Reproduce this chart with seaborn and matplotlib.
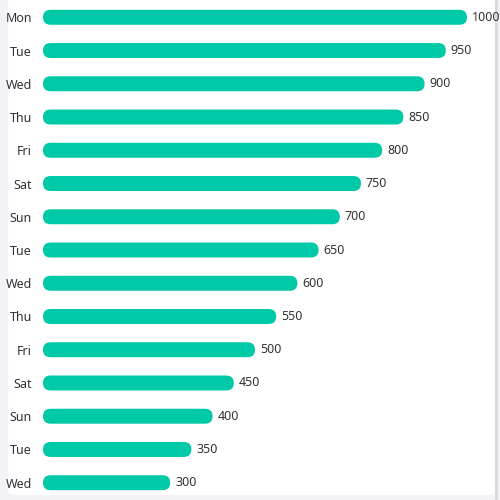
import matplotlib
matplotlib.use("Agg")
import matplotlib.pyplot as plt
import pandas as pd
import seaborn as sns
from matplotlib.patches import FancyBboxPatch, Rectangle

# Data
days = ["Mon", "Tue", "Wed", "Thu", "Fri", "Sat", "Sun",
        "Tue", "Wed", "Thu", "Fri", "Sat", "Sun", "Tue", "Wed"]
values = [1000, 950, 900, 850, 800, 750, 700,
          650, 600, 550, 500, 450, 400, 350, 300]

BAR_COLOR = "#00C9A7"
TEXT_COLOR = "#333333"

sns.set_theme(style="white")
plt.rcParams["font.family"] = ["Noto Sans", "DejaVu Sans"]

df = pd.DataFrame({"pos": list(range(len(days))), "day": days, "value": values})

fig = plt.figure(figsize=(5, 5), dpi=100, facecolor="#F2F2F7")
# white panel behind the chart
fig.patches.append(FancyBboxPatch((8 / 500, 5 / 500), 487 / 500, 500 / 500,
                                  boxstyle="round,pad=0,rounding_size=0.012",
                                  transform=fig.transFigure, facecolor="white",
                                  edgecolor="none", zorder=-10))
# scrollbar line on the right
fig.patches.append(Rectangle((495 / 500, 0), 3 / 500, 1, transform=fig.transFigure,
                             facecolor="#DADADF", edgecolor="none", zorder=-10))

ax = fig.add_axes([43 / 500, 0.0, 424 / 500, 1.0])
ax.set_facecolor("none")

sns.barplot(data=df, x="value", y="pos", orient="h", color=BAR_COLOR,
            width=0.45, saturation=1, ax=ax)

ax.set_xlim(0, 1000)
ax.set_ylim(14.5 + 0.02, -0.5 - 0.02)

# round the bar ends
x_per_px = 1000 / 424
y_per_px = 15.04 / 500
radius_px = 7.5
for bar in list(ax.patches):
    x, y = bar.get_x(), bar.get_y()
    w, h = bar.get_width(), bar.get_height()
    rounded = FancyBboxPatch((x, y), w, h,
                             boxstyle=f"round,pad=0,rounding_size={radius_px * x_per_px}",
                             mutation_aspect=y_per_px / x_per_px,
                             facecolor=BAR_COLOR, edgecolor="none")
    bar.remove()
    ax.add_patch(rounded)

for i, v in enumerate(values):
    ax.text(v + 5 * x_per_px, i, str(v), va="center", ha="left",
            fontsize=9, color=TEXT_COLOR, clip_on=False)

ax.set_yticks(range(len(days)), labels=days)
ax.tick_params(axis="y", length=0, pad=8, labelsize=9, labelcolor=TEXT_COLOR)
ax.set_xticks([])
ax.set_xlabel("")
ax.set_ylabel("")
for s in ax.spines.values():
    s.set_visible(False)

fig.savefig("out.png", dpi=100, facecolor=fig.get_facecolor())
